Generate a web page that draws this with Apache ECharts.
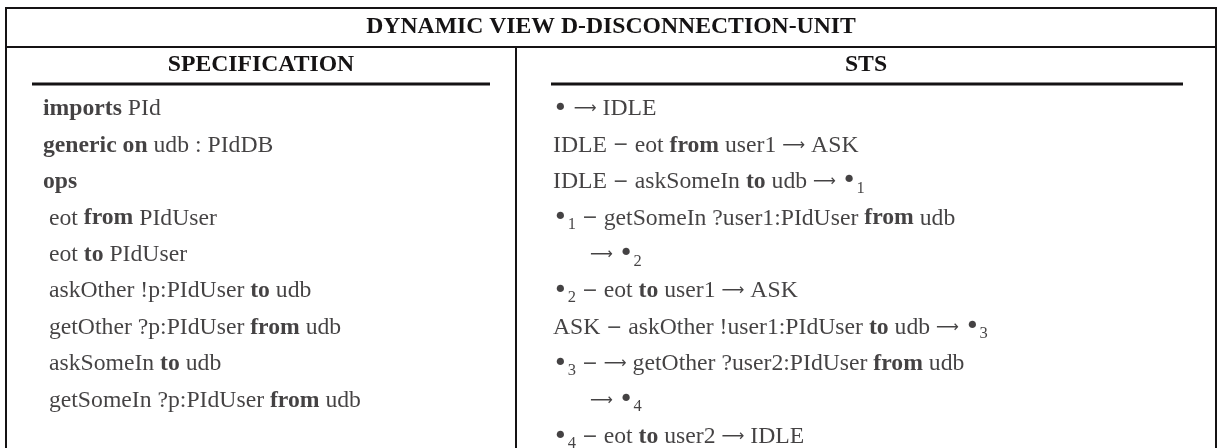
<!DOCTYPE html>
<html><head><meta charset="utf-8">
<script src="https://cdn.jsdelivr.net/npm/echarts@6/dist/echarts.min.js"></script>
<style>html,body{margin:0;padding:0;background:#fff}#c{width:1220px;height:448px}</style>
</head><body><div id="c"></div>
<script>
// ---- content ----
const tableTitle = 'DYNAMIC VIEW D-DISCONNECTION-UNIT';
const columnHeaders = ['SPECIFICATION', 'STS'];
const specLines = [
  '**imports** PId',
  '**generic on** udb : PIdDB',
  '**ops**',
  ' eot **from** PIdUser',
  ' eot **to** PIdUser',
  ' askOther !p:PIdUser **to** udb',
  ' getOther ?p:PIdUser **from** udb',
  ' askSomeIn **to** udb',
  ' getSomeIn ?p:PIdUser **from** udb'
];
const stsLines = [
  '• → IDLE',
  'IDLE − eot **from** user1 → ASK',
  'IDLE − askSomeIn **to** udb → •_1',
  '•_1 − getSomeIn ?user1:PIdUser **from** udb',
  '\t→ •_2',
  '•_2 − eot **to** user1 → ASK',
  'ASK − askOther !user1:PIdUser **to** udb → •_3',
  '•_3 − → getOther ?user2:PIdUser **from** udb',
  '\t→ •_4',
  '•_4 − eot **to** user2 → IDLE'
];
const rowIds = stsLines.map((_, i) => String(i));

// ---- style ----
const INK = '#151314';
const FAMILY = "'Liberation Serif', 'DejaVu Serif', serif";
const MATH = "'DejaVu Sans', sans-serif";
const FS = 23.7;

function toRich(line) {
  let out = '', buf = '', bold = false;
  const flush = () => { if (buf) { out += '{' + (bold ? 'b' : 'n') + '|' + buf + '}'; buf = ''; } };
  for (let i = 0; i < line.length; i++) {
    const ch = line[i];
    if (ch === '\t') continue;
    if (ch === '*' && line[i + 1] === '*') { flush(); bold = !bold; i++; continue; }
    if (ch === '_') { flush(); out += '{s|' + line[i + 1] + '}'; i++; continue; }
    if (ch === '•') { flush(); out += '{d|•}'; continue; }
    if (ch === '→') { flush(); out += '{a|\u27F6}'; continue; }
    if (ch === '−') { flush(); out += '{m|−}'; continue; }
    buf += ch;
  }
  flush();
  return out;
}

const rich = {
  n: { fontFamily: FAMILY, fontSize: FS, color: INK, lineHeight: 30 },
  b: { fontFamily: FAMILY, fontSize: FS, color: INK, fontWeight: 'bold', lineHeight: 30 },
  s: { fontFamily: FAMILY, fontSize: 16.5, color: INK, lineHeight: 18, verticalAlign: 'bottom' },
  d: { fontFamily: MATH, fontSize: 25, color: INK, lineHeight: 30 },
  a: { fontFamily: MATH, fontSize: 16, color: INK, lineHeight: 30 },
  m: { fontFamily: MATH, fontSize: 19, color: INK, lineHeight: 30 }
};

const L = { left: 6, right: 1216, top: 8, titleSep: 47, divider: 516, ruleY: 84,
  specX: 43, stsX: 553, stsIndent: 37 };

function seg(x1, y1, x2, y2, w) {
  return { type: 'line', silent: true, shape: { x1, y1, x2, y2 },
    style: { stroke: INK, lineWidth: w } };
}
function txt(s, x, y) {
  return { type: 'text', silent: true,
    style: { text: s, x, y, fill: INK, font: 'bold ' + FS + 'px ' + FAMILY,
      textAlign: 'center', textVerticalAlign: 'middle', align: 'center', verticalAlign: 'middle' } };
}

const chart = echarts.init(document.getElementById('c'), null, { renderer: 'canvas' });
chart.setOption({
  animation: false,
  backgroundColor: '#fff',
  grid: { left: 0, right: 0, top: 109, bottom: 11, containLabel: false },
  xAxis: { type: 'value', min: 0, max: 1220, show: false },
  yAxis: { type: 'category', data: rowIds, inverse: true, boundaryGap: false, show: false },
  graphic: { elements: [
    seg(L.left - 1, L.top, L.right + 1, L.top, 2),
    seg(L.left, L.top, L.left, 448, 2),
    seg(L.right, L.top, L.right, 448, 2),
    seg(L.left, L.titleSep, L.right, L.titleSep, 2),
    seg(L.divider, L.titleSep, L.divider, 448, 2),
    seg(32, L.ruleY, 490, L.ruleY, 3),
    seg(551, L.ruleY, 1183, L.ruleY, 3),
    txt(tableTitle, (L.left + L.right) / 2, 27),
    txt(columnHeaders[0], (L.left + L.divider) / 2, 65),
    txt(columnHeaders[1], (L.divider + L.right) / 2, 65)
  ] },
  series: [
    {
      name: columnHeaders[0], type: 'scatter', symbolSize: 0, silent: true,
      data: specLines.map((_, i) => [L.specX, rowIds[i]]),
      label: { show: true, position: 'right', distance: 0, rich,
        formatter: p => toRich(specLines[p.dataIndex]) }
    },
    {
      name: columnHeaders[1], type: 'scatter', symbolSize: 0, silent: true,
      data: stsLines.map((s, i) => [L.stsX + (s[0] === '\t' ? L.stsIndent : 0), rowIds[i]]),
      label: { show: true, position: 'right', distance: 0, rich,
        formatter: p => toRich(stsLines[p.dataIndex]) }
    }
  ]
});
</script></body></html>
